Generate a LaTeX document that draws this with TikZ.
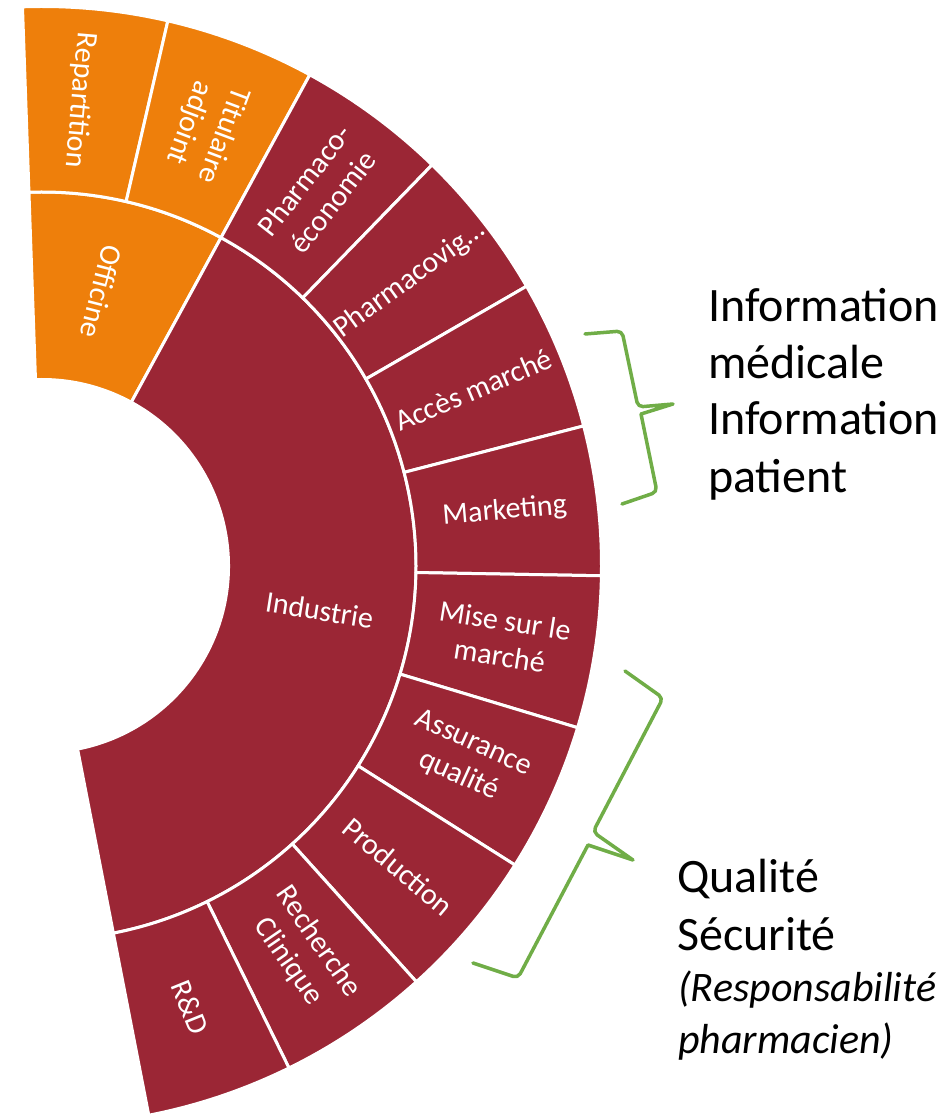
\documentclass[tikz,border=0pt]{standalone}
\usepackage{fontspec}
\setmainfont{Carlito}
\definecolor{orng}{RGB}{238,127,11}
\definecolor{wine}{RGB}{155,38,53}
\definecolor{brc}{RGB}{112,173,71}
\newcommand\ringsector[5]{%
  \fill[#1, draw=white, line width=3pt, line join=round]
    (#2:#4pt) arc[start angle=#2, end angle=#3, radius=#4pt]
    -- (#3:#5pt) arc[start angle=#3, end angle=#2, radius=#5pt] -- cycle;}
\begin{document}
\begin{tikzpicture}[x=1pt,y=1pt,
  lab/.style={text=white, font=\fontsize{30}{36}\selectfont, align=center, inner sep=0pt},
  bigtxt/.style={text=black, font=\fontsize{48}{57}\selectfont, anchor=base west, inner sep=0pt},
  ittxt/.style={text=black, font=\fontsize{42}{51}\itshape, anchor=base west, inner sep=0pt},
  bracestyle/.style={draw=brc, line width=3.5pt, line cap=round, line join=round}]
\useasboundingbox (-42,-548) rectangle (908,566);
% inner ring
\ringsector{orng}{92}{61.4}{186.5}{374}
\ringsector{wine}{61.4}{-79}{186.5}{374}
% outer ring
\ringsector{orng}{92}{77}{374}{559.5}
\ringsector{orng}{77}{61.4}{374}{559.5}
\ringsector{wine}{61.4}{45.8}{374}{559.5}
\ringsector{wine}{45.8}{30}{374}{559.5}
\ringsector{wine}{30}{14.5}{374}{559.5}
\ringsector{wine}{14.5}{-1}{374}{559.5}
\ringsector{wine}{-1}{-16.8}{374}{559.5}
\ringsector{wine}{-16.8}{-32.3}{374}{559.5}
\ringsector{wine}{-32.3}{-48}{374}{559.5}
\ringsector{wine}{-48}{-63.8}{374}{559.5}
\ringsector{wine}{-63.8}{-79}{374}{559.5}
% labels
\node[lab, rotate=-104.5] (officine) at (60,274) {Officine};
\node[lab, rotate=-9] (industrie) at (-9:281pt) {Industrie};
\node[lab, rotate=-95] (repart) at (38,466) {Repartition};
\node[lab, rotate=-110.5] (titul) at (164,437) {Titulaire\\adjoint};
\node[lab, rotate=52] (pheco) at (53.6:466pt) {Pharmaco-\\économie};
\node[lab, rotate=36] (phvig) at (37.9:466pt) {Pharmacovig…};
\node[lab, rotate=23] (acces) at (22.25:466pt) {Accès marché};
\node[lab, rotate=5] (mkt) at (6.75:466pt) {Marketing};
\node[lab, rotate=-9] (mise) at (-8.9:466pt) {Mise sur le\\marché};
\node[lab, rotate=-24.5] (assur) at (-24.55:466pt) {Assurance\\qualité};
\node[lab, rotate=-40] (prod) at (-40.15:466pt) {Production};
\node[lab, rotate=-55.5] (rech) at (-55.9:466pt) {Recherche\\Clinique};
\node[lab, rotate=-68] (rd) at (-71.4:466pt) {R\&D};
% right texts
\node[bigtxt] (info1) at (666,244.3) {Information};
\node[bigtxt] (info2) at (666,187) {médicale};
\node[bigtxt] (info3) at (666,131) {Information};
\node[bigtxt] (info4) at (666,73.7) {patient};
\node[bigtxt] (qual) at (635,-326.7) {Qualité};
\node[bigtxt] (secu) at (635,-384.7) {Sécurité};
\node[ittxt] (resp1) at (636,-435.7) {(Responsabilité};
\node[ittxt] (resp2) at (636,-487) {pharmacien)};
% braces (image coordinates)
\begin{scope}[shift={(-42,566)}, yscale=-1]
\draw[bracestyle] (585,334) [rounded corners=5pt] -- (622,331) -- (638,407)
  [sharp corners] -- (673,404) -- (641,414) [rounded corners=5pt] -- (657,492) -- (622,504);
\draw[bracestyle] (625,671) [rounded corners=5pt] -- (663,698) -- (593,832)
  [sharp corners] -- (633,860) -- (588,845) [rounded corners=5pt] -- (518,978) -- (473,963);
\end{scope}
\end{tikzpicture}
\end{document}
